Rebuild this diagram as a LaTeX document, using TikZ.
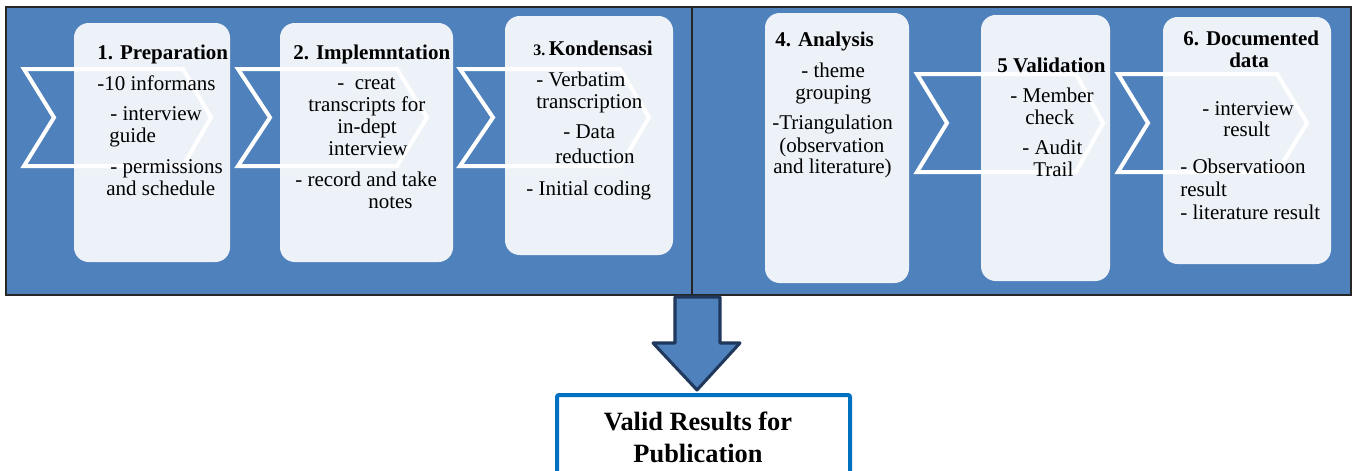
\documentclass[tikz,border=0pt]{standalone}
\usepackage{fontspec}
\setmainfont{Liberation Serif}
\definecolor{pblue}{RGB}{79,129,189}
\definecolor{navy}{RGB}{31,56,92}
\definecolor{resblue}{RGB}{0,112,192}
\tikzset{
  panel/.style={fill=pblue, draw=black!85, line width=0.9pt},
  chev/.style={draw=white, line width=3pt, miter limit=4},
  stepbox/.style={fill=white, fill opacity=0.9, rounded corners=11pt},
  txt/.style={anchor=base west, inner sep=0pt, font=\fontsize{15.75}{16}\selectfont},
  hd/.style={anchor=base west, inner sep=0pt, font=\bfseries\fontsize{15.75}{16}\selectfont},
  restxt/.style={anchor=base, inner sep=0pt, font=\bfseries\fontsize{19.8}{20}\selectfont},
}
\begin{document}
\begin{tikzpicture}[x=0.75pt,y=-0.75pt]
\useasboundingbox (0,0) rectangle (1353,471);
\clip (0,0) rectangle (1353,471);
% panel
\path[panel] (6,7) rectangle (1351,295);
\draw[black!85, line width=0.9pt] (692,7) -- (692,295);
% chevrons
\draw[chev] (24,69) -- (183,69) -- (211,117.5) -- (183,166) -- (24,166) -- (54,117.5) -- cycle;
\draw[chev] (238,69) -- (397,69) -- (427,117.5) -- (397,166) -- (238,166) -- (270,117.5) -- cycle;
\draw[chev] (460,69) -- (620,69) -- (649,117.5) -- (620,166) -- (460,166) -- (493,117.5) -- cycle;
\draw[chev] (917,74) -- (1076,74) -- (1103,123) -- (1076,172) -- (917,172) -- (947,123) -- cycle;
\draw[chev] (1118,74) -- (1277,74) -- (1307,123) -- (1277,172) -- (1118,172) -- (1148,123) -- cycle;
% boxes
\path[stepbox] (74,23) rectangle (230,262);
\path[stepbox] (280,23) rectangle (453,262);
\path[stepbox] (505,16) rectangle (673,255);
\path[stepbox] (765,13) rectangle (909,283);
\path[stepbox] (981,15) rectangle (1110,281);
\path[stepbox] (1163,17) rectangle (1331,264);
% box 1
\node[hd]  (h1)  at (97,59) {1. Preparation};
\node[txt] (t1a) at (97,90) {-10 informans};
\node[txt] (t1b) at (110,120) {- interview};
\node[txt] (t1c) at (109,142) {guide};
\node[txt] (t1d) at (110,173) {- permissions};
\node[txt] (t1e) at (106,195) {and schedule};
% box 2
\node[hd]  (h2)  at (293,59) {2. Implemntation};
\node[txt] (t2a) at (337,89) {-\ \ creat};
\node[txt] (t2b) at (308,111) {transcripts for};
\node[txt] (t2c) at (337,133) {in-dept};
\node[txt] (t2d) at (328,155) {interview};
\node[txt] (t2e) at (295,186) {- record and take};
\node[txt] (t2f) at (368,208) {notes};
% box 3
\node[hd]  (h3)  at (533,55) {{\fontsize{12}{13}\selectfont 3.}\,Kondensasi};
\node[txt] (t3a) at (536,86) {- Verbatim};
\node[txt] (t3b) at (536,108) {transcription};
\node[txt] (t3c) at (563,138) {- Data};
\node[txt] (t3d) at (555,163) {reduction};
\node[txt] (t3e) at (526,195) {- Initial coding};
% box 4
\node[hd]  (h4)  at (775,46) {4. Analysis};
\node[txt] (t4a) at (801,77) {- theme};
\node[txt] (t4b) at (795,99) {grouping};
\node[txt] (t4c) at (772,129) {-Triangulation};
\node[txt] (t4d) at (779,152) {(observation};
\node[txt] (t4e) at (773,173) {and literature)};
% box 5
\node[hd]  (h5)  at (997,72) {5 Validation};
\node[txt] (t5a) at (1010,102) {- Member};
\node[txt] (t5b) at (1025,124) {check};
\node[txt] (t5c) at (1022,154) {- Audit};
\node[txt] (t5d) at (1033,176) {Trail};
% box 6
\node[hd]  (h6)  at (1183,45) {6. Documented};
\node[hd]  (h6b) at (1229,67) {data};
\node[txt] (t6a) at (1202,115) {- interview};
\node[txt] (t6b) at (1223,136) {result};
\node[txt] (t6c) at (1180,173) {- Observatioon};
\node[txt] (t6d) at (1180,196) {result};
\node[txt] (t6e) at (1180,219) {- literature result};
% big arrow
\draw[fill=pblue, draw=navy, line width=2.3pt, line join=round]
  (675,297) -- (720,297) -- (720,343) -- (740,343) -- (697,390) -- (653,343) -- (675,343) -- cycle;
% result box
\draw[resblue, line width=3pt, fill=white, rounded corners=1.5pt] (557,395) rectangle (850,500);
\node[restxt] (r1) at (698,430) {Valid Results for};
\node[restxt] (r2) at (698,462) {Publication};
\end{tikzpicture}
\end{document}
